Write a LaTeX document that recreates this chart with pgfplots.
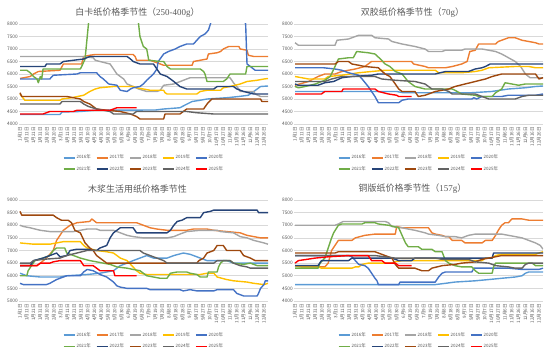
\documentclass[border=0pt]{standalone}
\usepackage{fontspec}
\setmainfont{Noto Sans CJK SC}
\newfontfamily\latinserif{Liberation Serif}
\usepackage{pgfplots}
\pgfplotsset{compat=1.18}
\definecolor{c16}{RGB}{91,155,213}
\definecolor{c17}{RGB}{237,125,49}
\definecolor{c18}{RGB}{165,165,165}
\definecolor{c19}{RGB}{255,192,0}
\definecolor{c20}{RGB}{68,114,196}
\definecolor{c21}{RGB}{112,173,71}
\definecolor{c22}{RGB}{38,68,120}
\definecolor{c23}{RGB}{158,72,14}
\definecolor{c24}{RGB}{99,99,99}
\definecolor{c25}{RGB}{255,0,0}
\definecolor{tickgray}{RGB}{89,89,89}
\definecolor{gridgray}{RGB}{217,217,217}
\pgfplotsset{
  seas/.style={
    scale only axis, width=249bp, height=100bp,
    xmin=-1.5, xmax=366,
    xtick={0,10,...,360},
    xticklabels={1月1日,1月11日,1月21日,1月31日,2月10日,2月20日,3月1日,3月11日,3月21日,3月31日,4月10日,4月20日,4月30日,5月10日,5月20日,5月30日,6月9日,6月19日,6月29日,7月9日,7月19日,7月29日,8月8日,8月18日,8月28日,9月7日,9月17日,9月27日,10月7日,10月17日,10月27日,11月6日,11月16日,11月26日,12月6日,12月16日,12月26日},
    xticklabel style={rotate=90, anchor=east, font=\fontsize{4.6}{5}\selectfont, text=tickgray, inner sep=0pt, xshift=-3bp},
    yticklabel style={font=\fontsize{4.8}{5}\selectfont, text=tickgray, inner sep=1bp},
    /pgf/number format/assume math mode=true,
    /pgf/number format/set thousands separator={},
    ymajorgrids, grid style={gridgray, line width=0.6bp},
    axis line style={draw=none}, major tick length=0pt,
    title style={at={(0.5,1)}, anchor=center, yshift=5bp, xshift=-6bp, font=\fontsize{9}{10}\selectfont, text=tickgray},
    legend columns=5,
    legend style={at={(0.5,-0.30)}, anchor=north, draw=none, fill=none, font=\fontsize{4.5}{5}\selectfont, text=tickgray, /tikz/every even column/.append style={column sep=4bp}, row sep=4bp, inner sep=0pt, nodes={inner sep=1bp}},
    legend image code/.code={\draw[#1, line width=1.6bp] (0bp,0bp) -- (11bp,0bp);},
    every axis plot/.append style={line width=1.4bp, line join=round, mark=none},
  },
}
\begin{document}
\begin{tikzpicture}
\useasboundingbox (0bp,0bp) rectangle (550bp,353bp);
% Panel 1
\begin{axis}[seas, at={(19bp,229bp)}, anchor=south west, ymin=4000, ymax=8000, ytick={4000,4500,...,8000},
  title={白卡纸价格季节性（{\latinserif 250-400g}）}]
\addplot[c16] coordinates {(0,4380)(59,4380)(62,4480)(89,4500)(110,4550)(200,4560)(212,4600)(236,4650)(243,4750)(254,4900)(266,4950)(276,5000)(305,5050)(323,5100)(337,5150)(345,5300)(350,5400)(355,5500)(366,5520)};
\addplot[c17] coordinates {(0,5820)(15,5900)(20,6000)(27,6100)(59,6150)(62,6300)(64,6400)(91,6400)(94,6700)(103,6750)(111,6780)(167,6780)(170,6700)(172,6550)(192,6550)(197,6500)(207,6400)(212,6350)(254,6350)(256,6500)(276,6600)(278,6800)(291,6850)(296,6900)(300,7000)(308,7100)(323,7100)(325,7000)(335,6950)(337,6750)(345,6700)(366,6700)};
\addplot[c18] coordinates {(0,6700)(91,6700)(108,6650)(111,6550)(118,6500)(133,6400)(138,6200)(143,6000)(153,5800)(158,5600)(167,5500)(175,5400)(187,5300)(202,5300)(207,5350)(212,5550)(227,5600)(246,5800)(251,5850)(310,5850)(315,5650)(323,5400)(325,5300)(345,5300)(347,5200)(355,5100)(366,5100)};
\addplot[c19] coordinates {(0,5200)(7,4950)(59,4950)(62,5000)(76,5050)(94,5150)(103,5300)(111,5400)(118,5450)(138,5500)(167,5500)(172,5450)(182,5400)(192,5350)(212,5350)(214,5250)(217,5200)(261,5200)(266,5300)(276,5350)(296,5350)(300,5450)(310,5500)(325,5600)(335,5700)(350,5750)(360,5800)(366,5820)};
\addplot[c20] coordinates {(0,5800)(44,5800)(49,5950)(84,6000)(89,6050)(113,6050)(118,5900)(123,5800)(131,5600)(143,5550)(148,5350)(158,5300)(163,5400)(167,5450)(177,5500)(182,5600)(187,5750)(197,6000)(202,6200)(204,6500)(212,6800)(219,6900)(229,7000)(236,7100)(246,7200)(256,7200)(261,7350)(266,7500)(273,7600)(278,7750)(281,8000)(285,8400)(328,8400)(333,8000)(335,6400)(340,6300)(347,6150)(366,6150)};
\addplot[c21] coordinates {(0,6150)(10,6150)(15,6050)(20,5900)(25,5800)(27,5650)(30,5900)(32,5800)(34,6200)(89,6200)(91,6300)(96,6600)(101,8000)(103,8500)(172,8500)(175,8000)(177,7500)(182,7100)(187,7000)(190,6550)(207,6500)(212,6500)(217,6300)(222,6200)(266,6200)(271,6100)(273,6000)(276,5700)(300,5700)(305,5800)(310,6000)(333,6000)(335,6300)(366,6300)};
\addplot[c22] coordinates {(0,6300)(37,6300)(39,6400)(59,6400)(64,6500)(79,6550)(94,6600)(103,6700)(158,6700)(163,6600)(167,6500)(177,6400)(197,6400)(202,6200)(207,6000)(217,5900)(227,5700)(236,5500)(246,5400)(286,5400)(291,5500)(315,5500)(320,5400)(330,5300)(345,5200)(366,5200)};
\addplot[c23] coordinates {(0,5250)(2.5,5100)(69,5100)(89,5000)(94,4900)(103,4800)(108,4700)(113,4600)(128,4550)(148,4500)(163,4400)(172,4300)(177,4200)(212,4200)(214,4400)(236,4400)(241,4500)(246,4600)(271,4600)(276,4800)(283,5000)(355,5000)(357,4900)(366,4900)};
\addplot[c24] coordinates {(0,4800)(59,4800)(62,4900)(89,4900)(94,4800)(101,4700)(113,4600)(133,4500)(138,4400)(167,4400)(172,4500)(246,4500)(261,4450)(286,4400)(366,4400)};
\addplot[c25] coordinates {(0,4400)(34,4400)(44,4500)(79,4500)(84,4550)(133,4550)(138,4600)(143,4650)(172,4650)};
\legend{2016年,2017年,2018年,2019年,2020年,2021年,2022年,2023年,2024年,2025年}
\end{axis}
% Panel 2
\begin{axis}[seas, at={(294bp,229bp)}, anchor=south west, ymin=4000, ymax=8000, ytick={4000,4500,...,8000},
  title={双胶纸价格季节性（{\latinserif 70g}）}]
\addplot[c16] coordinates {(0,5300)(150,5300)(160,5250)(260,5250)(290,5300)(315,5400)(340,5450)(355,5500)(366,5520)};
\addplot[c17] coordinates {(0,5550)(20,5700)(27,5800)(34,5900)(44,6000)(59,6000)(69,6100)(89,6200)(103,6300)(113,6500)(172,6500)(175,6400)(192,6300)(197,6250)(222,6250)(232,6300)(246,6400)(254,6500)(258,6900)(266,6950)(271,7200)(296,7200)(300,7300)(310,7400)(315,7450)(325,7450)(330,7400)(335,7350)(345,7300)(355,7250)(360,7200)(366,7200)};
\addplot[c18] coordinates {(0,7250)(5,7150)(59,7150)(62,7350)(79,7400)(94,7550)(113,7550)(118,7450)(138,7400)(143,7300)(158,7200)(177,7100)(192,7000)(197,6900)(217,6900)(222,6950)(246,6950)(251,7000)(276,7000)(286,6950)(296,6900)(305,6800)(315,6650)(325,6500)(333,6300)(340,6000)(347,5850)(366,5850)};
\addplot[c19] coordinates {(0,5900)(20,5800)(44,5800)(49,5900)(69,5950)(94,6050)(113,6100)(133,6150)(207,6150)(212,6050)(246,6050)(266,6100)(276,6150)(286,6250)(325,6300)(345,6300)(355,6250)(366,6250)};
\addplot[c20] coordinates {(0,6250)(42,6250)(59,6200)(69,6150)(79,6050)(94,5950)(99,5800)(108,5500)(118,5100)(123,4850)(153,4850)(158,4950)(167,5000)(261,5000)(264,5050)(268,5000)(276,5100)(305,5100)(315,5150)(355,5150)(366,5200)};
\addplot[c21] coordinates {(0,5500)(5,5450)(15,5500)(30,5600)(44,5750)(52,5900)(59,6300)(64,6600)(79,6650)(86,6650)(91,6900)(108,6850)(118,6800)(126,6600)(133,6400)(140,6300)(148,6100)(158,6000)(167,5700)(177,5500)(192,5400)(232,5400)(236,5350)(246,5200)(266,5150)(271,5100)(291,5100)(296,5250)(305,5400)(310,5650)(320,5600)(330,5550)(340,5600)(366,5600)};
\addplot[c22] coordinates {(0,5600)(5,5550)(34,5550)(44,5650)(57,5700)(69,5850)(84,5900)(113,5950)(123,6000)(207,6000)(222,6100)(256,6100)(266,6200)(276,6250)(281,6300)(288,6400)(366,6400)};
\addplot[c23] coordinates {(0,6400)(59,6400)(64,6500)(79,6500)(84,6400)(94,6350)(103,6300)(123,6250)(133,6000)(140,5900)(148,5600)(153,5400)(158,5300)(177,5300)(182,5100)(192,5150)(207,5300)(227,5400)(236,5500)(251,5600)(266,5700)(281,5800)(291,5900)(305,6000)(355,6000)(360,5800)(366,5850)};
\addplot[c24] coordinates {(0,5700)(44,5700)(54,5800)(69,5900)(118,5900)(128,5800)(148,5750)(177,5700)(192,5600)(202,5400)(217,5400)(227,5300)(232,5200)(266,5200)(276,5100)(286,5000)(325,5000)(335,5100)(345,5150)(366,5150)};
\addplot[c25] coordinates {(0,5200)(39,5200)(44,5300)(69,5300)(71,5400)(118,5400)(123,5300)(138,5200)(150,5150)(153,5100)(172,5100)};
\legend{2016年,2017年,2018年,2019年,2020年,2021年,2022年,2023年,2024年,2025年}
\end{axis}
% Panel 3
\begin{axis}[seas, at={(19bp,52bp)}, anchor=south west, height=101bp, ymin=5000, ymax=9000, ytick={5000,5500,...,9000},
  title={木浆生活用纸价格季节性}]
\addplot[c16] coordinates {(0,6100)(10,6000)(30,5950)(59,5950)(69,6000)(99,6050)(118,6100)(138,6200)(143,6300)(148,6400)(158,6500)(167,6600)(177,6700)(187,6800)(197,6700)(217,6700)(227,6800)(241,6900)(251,6850)(266,6700)(276,6600)(305,6600)(315,6500)(366,6500)};
\addplot[c17] coordinates {(0,6400)(25,6400)(30,6500)(39,6700)(49,7000)(54,7400)(59,7600)(64,7800)(74,8000)(84,8100)(103,8150)(106,8250)(113,8100)(172,8100)(177,8050)(182,8000)(192,7900)(202,7850)(217,7800)(246,7800)(256,7850)(276,7850)(286,7800)(305,7750)(325,7700)(335,7600)(345,7550)(355,7500)(366,7500)};
\addplot[c18] coordinates {(0,8000)(5,7950)(15,7900)(30,7800)(44,7750)(79,7750)(89,7800)(99,7850)(113,7850)(118,7800)(138,7800)(143,7750)(158,7600)(167,7550)(182,7500)(217,7500)(227,7550)(236,7650)(246,7750)(266,7800)(291,7800)(296,7750)(315,7700)(325,7550)(335,7500)(345,7400)(360,7300)(366,7250)};
\addplot[c19] coordinates {(0,7300)(20,7250)(44,7250)(54,7300)(64,7350)(89,7350)(94,7200)(99,7100)(113,7000)(128,6950)(138,6900)(148,6700)(158,6600)(165,6400)(172,6200)(177,6100)(187,6050)(266,6050)(276,6100)(286,6100)(291,5950)(305,5850)(315,5800)(335,5750)(345,5700)(360,5650)(366,5700)};
\addplot[c20] coordinates {(0,5700)(5,5650)(39,5650)(44,5700)(54,5850)(64,5950)(69,6000)(89,6000)(94,6150)(99,6250)(108,6200)(118,6050)(128,5950)(138,5750)(143,5600)(148,5550)(158,5500)(187,5500)(192,5450)(236,5450)(241,5400)(251,5450)(261,5400)(286,5400)(291,5450)(315,5450)(320,5300)(330,5200)(350,5200)(352,5300)(355,5500)(360,5650)(362,5800)(366,5800)};
\addplot[c21] coordinates {(0,6000)(10,6000)(12,6200)(17,6400)(22,6600)(34,6700)(44,6800)(49,7000)(54,7100)(66,7100)(69,6900)(79,6800)(89,6700)(103,6600)(123,6500)(133,6450)(143,6350)(158,6300)(167,6250)(177,6200)(187,6000)(197,5950)(207,5900)(217,5900)(222,6100)(232,6150)(246,6150)(251,6100)(261,6050)(266,5950)(276,5950)(278,6150)(291,6150)(293,6350)(296,6500)(300,6600)(310,6600)(315,6500)(330,6450)(340,6500)(350,6400)(366,6400)};
\addplot[c22] coordinates {(0,6400)(15,6400)(20,6600)(34,6700)(44,6800)(54,6900)(59,6750)(69,6800)(74,7000)(84,7050)(99,7050)(113,7000)(118,7100)(128,7200)(133,7500)(138,7700)(143,7800)(148,7900)(167,7900)(172,7700)(217,7700)(222,7800)(227,8000)(232,8150)(239,8200)(246,8300)(266,8300)(271,8500)(281,8550)(286,8600)(350,8600)(352,8500)(366,8500)};
\addplot[c23] coordinates {(0,8550)(2.5,8400)(49,8400)(54,8300)(61,8200)(71,8200)(76,8100)(81,7800)(89,7700)(96,7300)(103,7100)(108,7000)(113,6800)(118,6700)(123,6600)(128,6500)(261,6500)(264,6600)(271,6700)(276,6900)(286,7000)(291,7200)(300,7200)(305,7000)(325,7000)(330,6800)(340,6700)(347,6600)(366,6600)};
\addplot[c24] coordinates {(0,6500)(15,6500)(20,6600)(34,6650)(59,6700)(69,6800)(84,6900)(99,7000)(177,7000)(182,6900)(192,6800)(202,6700)(212,6600)(217,6500)(286,6500)(291,6600)(310,6600)(315,6500)(325,6400)(335,6350)(340,6300)(366,6300)};
\addplot[c25] coordinates {(0,6400)(25,6400)(30,6500)(44,6500)(49,6550)(59,6600)(89,6600)(94,6400)(108,6400)(113,6300)(118,6200)(138,6200)(140,6000)(172,6000)};
\legend{2016年,2017年,2018年,2019年,2020年,2021年,2022年,2023年,2024年,2025年}
\end{axis}
% Panel 4
\begin{axis}[seas, at={(294bp,52bp)}, anchor=south west, height=101bp, ymin=4000, ymax=8000, ytick={4000,4500,...,8000},
  title={铜版纸价格季节性（{\latinserif 157g}）}]
\addplot[c16] coordinates {(0,4650)(207,4650)(222,4700)(236,4750)(266,4800)(286,4850)(305,4900)(325,4950)(335,5000)(340,5100)(345,5150)(366,5150)};
\addplot[c17] coordinates {(0,5400)(10,5350)(44,5350)(49,5500)(54,6000)(59,6200)(64,6400)(84,6400)(89,6500)(103,6600)(118,6650)(148,6650)(150,6950)(158,6900)(197,6900)(202,6700)(207,6650)(217,6600)(222,6550)(227,6550)(232,6400)(246,6400)(251,6300)(276,6300)(281,6400)(291,6400)(296,6600)(300,6800)(305,7000)(310,7100)(315,7100)(320,7250)(335,7250)(345,7200)(366,7200)};
\addplot[c18] coordinates {(0,7000)(59,7000)(64,7050)(71,7150)(133,7150)(138,7100)(143,6950)(158,6900)(167,6850)(177,6800)(192,6700)(197,6650)(212,6600)(222,6550)(236,6550)(246,6500)(256,6600)(266,6650)(305,6650)(315,6600)(325,6550)(335,6500)(345,6400)(355,6300)(362,6200)(366,6050)};
\addplot[c19] coordinates {(0,5400)(10,5350)(34,5350)(39,5300)(84,5300)(89,5350)(94,5350)(99,5450)(108,5500)(143,5500)(148,5550)(158,5600)(276,5600)(281,5700)(291,5700)(296,5800)(305,5850)(355,5850)(360,5900)(366,5950)};
\addplot[c20] coordinates {(0,5800)(79,5800)(84,5750)(89,5600)(94,5450)(103,5400)(108,5300)(113,5100)(118,4900)(121,4800)(123,4650)(153,4650)(155,4750)(207,4750)(212,4950)(217,5100)(222,5150)(261,5150)(264,5300)(315,5300)(335,5250)(360,5250)(366,5300)};
\addplot[c21] coordinates {(0,5300)(34,5300)(37,5500)(44,5700)(54,6500)(57,6700)(64,7000)(69,7050)(99,7050)(103,7100)(118,7100)(123,7050)(138,7000)(153,6900)(158,6600)(163,6300)(167,6150)(182,6150)(187,6050)(202,6050)(207,5950)(217,5950)(222,5600)(227,5500)(236,5400)(246,5350)(261,5350)(266,5200)(271,5100)(291,5100)(293,5350)(296,5500)(350,5500)(355,5400)(366,5400)};
\addplot[c22] coordinates {(0,5400)(34,5400)(39,5600)(79,5600)(84,5700)(143,5700)(153,5600)(172,5600)(177,5700)(291,5700)(293,5900)(366,5900)};
\addplot[c23] coordinates {(0,5900)(59,5900)(64,5950)(118,5950)(123,5900)(133,5800)(143,5700)(148,5450)(153,5300)(177,5300)(187,5200)(197,5200)(202,5300)(217,5400)(236,5450)(246,5500)(266,5550)(276,5650)(286,5700)(305,5800)(366,5800)};
\addplot[c24] coordinates {(0,5800)(118,5800)(133,5750)(148,5700)(207,5700)(217,5650)(256,5650)(266,5550)(286,5500)(296,5400)(315,5350)(325,5300)(335,5300)(340,5450)(345,5500)(366,5500)};
\addplot[c25] coordinates {(0,5500)(5,5600)(30,5700)(49,5750)(79,5800)(108,5800)(113,5600)(128,5600)(133,5500)(148,5500)(153,5400)(172,5400)};
\legend{2016年,2017年,2018年,2019年,2020年,2021年,2022年,2023年,2024年,2025年}
\end{axis}
\end{tikzpicture}
\end{document}
